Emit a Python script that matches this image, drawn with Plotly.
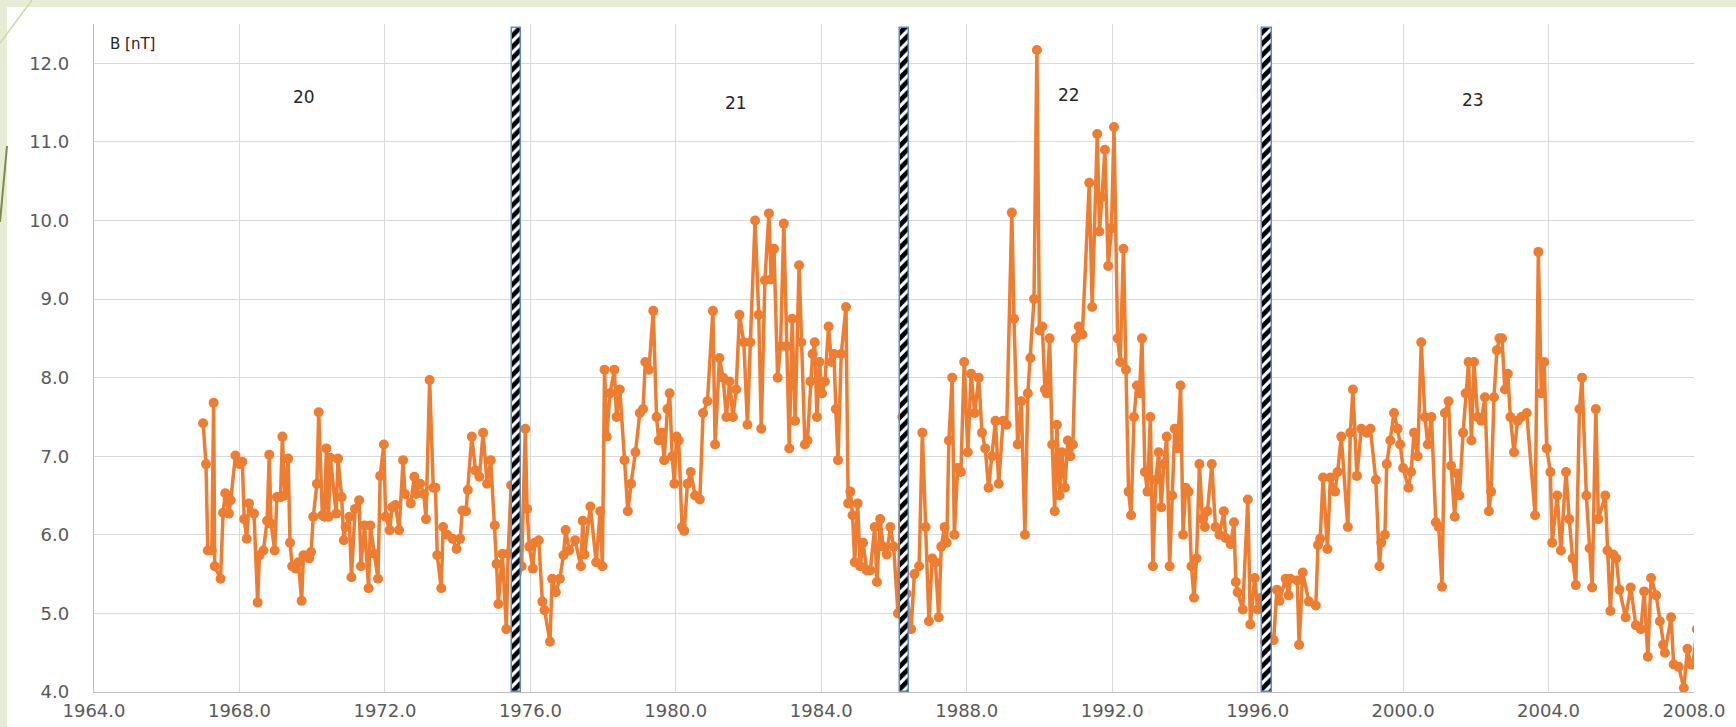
import plotly.graph_objects as go

# Interplanetary magnetic field strength B [nT], solar cycles 20-23
years_c20 = [1967.00, 1967.08, 1967.13, 1967.24, 1967.29, 1967.32, 1967.48, 1967.55, 1967.61, 1967.71,
             1967.76, 1967.89, 1968.01, 1968.08, 1968.13, 1968.20, 1968.26, 1968.40, 1968.50, 1968.55,
             1968.66, 1968.76, 1968.82, 1968.87, 1968.97, 1969.03, 1969.13, 1969.18, 1969.25, 1969.34,
             1969.39, 1969.45, 1969.55, 1969.62, 1969.71, 1969.76, 1969.92, 1969.97, 1970.03, 1970.13,
             1970.18, 1970.28, 1970.34, 1970.39, 1970.45, 1970.50, 1970.66, 1970.71, 1970.81, 1970.87,
             1970.92, 1971.02, 1971.08, 1971.18, 1971.29, 1971.34, 1971.44, 1971.55, 1971.60, 1971.71,
             1971.81, 1971.87, 1971.97, 1972.02, 1972.13, 1972.20, 1972.29, 1972.39, 1972.50, 1972.55,
             1972.71, 1972.81, 1972.86, 1972.97, 1973.07, 1973.13, 1973.23, 1973.33, 1973.39, 1973.44,
             1973.55, 1973.60, 1973.71, 1973.86, 1973.97, 1974.07, 1974.13, 1974.23, 1974.28, 1974.39,
             1974.49, 1974.60, 1974.70, 1974.81, 1974.91, 1975.02, 1975.07, 1975.12, 1975.23, 1975.34,
             1975.39, 1975.47, 1975.60]
b_c20 = [7.42, 6.90, 5.80, 5.80, 7.68, 5.60, 5.44, 6.28, 6.53, 6.27,
         6.44, 7.01, 6.90, 6.93, 6.20, 5.95, 6.40, 6.27, 5.14, 5.74,
         5.80, 6.18, 7.02, 6.14, 5.80, 6.48, 6.48, 7.25, 6.50, 6.97,
         5.90, 5.60, 5.57, 5.65, 5.16, 5.74, 5.70, 5.78, 6.23, 6.65,
         7.56, 6.25, 6.23, 7.10, 6.23, 6.98, 6.27, 6.97, 6.48, 5.93,
         6.10, 6.23, 5.46, 6.33, 6.44, 5.60, 6.12, 5.32, 6.12, 5.76,
         5.44, 6.75, 7.15, 6.23, 6.06, 6.35, 6.38, 6.06, 6.95, 6.52,
         6.40, 6.74, 6.52, 6.65, 6.52, 6.20, 7.97, 6.60, 6.60, 5.74,
         5.32, 6.10, 6.00, 5.95, 5.82, 5.95, 6.31, 6.30, 6.57, 7.25,
         6.82, 6.74, 7.30, 6.65, 6.95, 6.12, 5.63, 5.12, 5.76, 4.80,
         5.76, 6.63, 5.27]

years_c21 = [1975.76, 1975.86, 1975.91, 1975.97, 1976.07, 1976.12, 1976.23, 1976.33, 1976.39, 1976.54,
             1976.60, 1976.70, 1976.81, 1976.91, 1976.97, 1977.07, 1977.23, 1977.39, 1977.44, 1977.49,
             1977.65, 1977.81, 1977.92, 1977.98, 1978.04, 1978.10, 1978.19, 1978.31, 1978.37, 1978.46,
             1978.59, 1978.68, 1978.77, 1978.89, 1979.01, 1979.10, 1979.16, 1979.26, 1979.38, 1979.47,
             1979.53, 1979.62, 1979.68, 1979.77, 1979.83, 1979.90, 1979.96, 1980.02, 1980.08, 1980.17,
             1980.23, 1980.32, 1980.41, 1980.53, 1980.66, 1980.75, 1980.87, 1981.02, 1981.08, 1981.20,
             1981.30, 1981.39, 1981.48, 1981.57, 1981.66, 1981.75, 1981.87, 1981.97, 1982.05, 1982.18,
             1982.28, 1982.35, 1982.45, 1982.56, 1982.62, 1982.70, 1982.80, 1982.88, 1982.97, 1983.05,
             1983.12, 1983.20, 1983.28, 1983.39, 1983.45, 1983.55, 1983.62, 1983.70, 1983.76, 1983.82,
             1983.88, 1983.95, 1984.02, 1984.10, 1984.20, 1984.28, 1984.35, 1984.40, 1984.46, 1984.55,
             1984.68, 1984.74, 1984.80, 1984.86, 1984.92, 1985.00, 1985.07, 1985.15, 1985.25, 1985.35,
             1985.47, 1985.53, 1985.62, 1985.70, 1985.80, 1985.90, 1985.99, 1986.11, 1986.23]
b_c21 = [5.60, 7.35, 6.33, 5.85, 5.57, 5.90, 5.93, 5.15, 5.04, 4.64,
         5.44, 5.27, 5.44, 5.74, 6.06, 5.80, 5.93, 5.60, 6.18, 5.75,
         6.36, 5.65, 6.30, 5.60, 8.10, 7.25, 7.80, 8.10, 7.50, 7.85,
         6.95, 6.30, 6.65, 7.05, 7.55, 7.60, 8.20, 8.10, 8.85, 7.50,
         7.20, 7.30, 6.95, 7.60, 7.80, 7.00, 6.65, 7.25, 7.20, 6.10,
         6.05, 6.65, 6.80, 6.50, 6.45, 7.55, 7.70, 8.85, 7.15, 8.25,
         8.00, 7.50, 7.95, 7.50, 7.85, 8.80, 8.45, 7.40, 8.45, 10.00,
         8.80, 7.35, 9.24, 10.09, 9.25, 9.64, 8.00, 8.40, 9.96, 8.40,
         7.10, 8.75, 7.45, 9.43, 8.45, 7.15, 7.20, 7.95, 8.30, 8.45,
         7.50, 8.20, 7.80, 7.95, 8.65, 8.20, 8.30, 7.60, 6.95, 8.30,
         8.90, 6.40, 6.55, 6.25, 5.65, 6.40, 5.60, 5.90, 5.55, 5.55,
         6.10, 5.40, 6.20, 5.85, 5.75, 6.10, 5.85, 5.00, 7.50]

years_c22 = [1986.35, 1986.47, 1986.56, 1986.69, 1986.78, 1986.87, 1986.96, 1987.05, 1987.14, 1987.23,
             1987.30, 1987.39, 1987.45, 1987.51, 1987.60, 1987.66, 1987.75, 1987.84, 1987.93, 1988.03,
             1988.12, 1988.22, 1988.33, 1988.42, 1988.51, 1988.60, 1988.70, 1988.79, 1988.88, 1989.00,
             1989.10, 1989.24, 1989.30, 1989.40, 1989.50, 1989.60, 1989.68, 1989.75, 1989.85, 1989.93,
             1990.00, 1990.08, 1990.15, 1990.20, 1990.28, 1990.35, 1990.42, 1990.48, 1990.55, 1990.62,
             1990.70, 1990.78, 1990.85, 1990.92, 1991.00, 1991.08, 1991.18, 1991.37, 1991.45, 1991.59,
             1991.65, 1991.72, 1991.80, 1991.89, 1991.98, 1992.05, 1992.15, 1992.22, 1992.31, 1992.38,
             1992.45, 1992.52, 1992.60, 1992.68, 1992.75, 1992.82, 1992.90, 1992.97, 1993.05, 1993.12,
             1993.20, 1993.28, 1993.35, 1993.42, 1993.50, 1993.58, 1993.65, 1993.72, 1993.80, 1993.88,
             1993.95, 1994.02, 1994.10, 1994.18, 1994.25, 1994.32, 1994.40, 1994.48, 1994.55, 1994.62,
             1994.74, 1994.84, 1994.95, 1995.07, 1995.12, 1995.26, 1995.35, 1995.40, 1995.45, 1995.59,
             1995.73, 1995.80, 1995.92, 1996.00, 1996.10, 1996.20]
b_c22 = [5.25, 4.80, 5.50, 5.60, 7.30, 6.10, 4.90, 5.70, 5.65, 4.95,
         5.85, 6.10, 5.90, 7.20, 8.00, 6.00, 6.85, 6.80, 8.20, 7.05,
         8.05, 7.55, 8.00, 7.30, 7.10, 6.60, 7.00, 7.45, 6.65, 7.45,
         7.40, 10.10, 8.75, 7.15, 7.70, 6.00, 7.80, 8.25, 9.00, 12.17,
         8.60, 8.65, 7.85, 7.80, 8.50, 7.15, 6.30, 7.40, 6.50, 7.05,
         6.60, 7.20, 7.00, 7.15, 8.50, 8.65, 8.55, 10.48, 8.90, 11.10,
         9.86, 10.30, 10.90, 9.42, 9.90, 11.19, 8.50, 8.20, 9.64, 8.10,
         6.55, 6.25, 7.50, 7.90, 7.80, 8.50, 6.80, 6.55, 7.50, 5.60,
         6.70, 7.05, 6.35, 6.90, 7.25, 5.60, 6.50, 7.35, 7.10, 7.90,
         6.00, 6.60, 6.55, 5.60, 5.20, 5.70, 6.90, 6.20, 6.10, 6.30,
         6.90, 6.10, 6.00, 6.30, 5.96, 5.88, 6.16, 5.40, 5.27, 5.05,
         6.45, 4.86, 5.45, 5.05, 5.20, 4.64]

years_c23 = [1996.44, 1996.53, 1996.60, 1996.77, 1996.85, 1996.90, 1997.09, 1997.14, 1997.24, 1997.41,
             1997.60, 1997.66, 1997.72, 1997.80, 1997.92, 1998.00, 1998.13, 1998.20, 1998.30, 1998.48,
             1998.55, 1998.62, 1998.73, 1998.85, 1999.00, 1999.10, 1999.25, 1999.35, 1999.40, 1999.50,
             1999.55, 1999.65, 1999.75, 1999.85, 1999.92, 2000.00, 2000.15, 2000.22, 2000.30, 2000.40,
             2000.50, 2000.60, 2000.68, 2000.78, 2000.90, 2000.98, 2001.07, 2001.15, 2001.25, 2001.32,
             2001.42, 2001.48, 2001.55, 2001.65, 2001.72, 2001.80, 2001.88, 2001.95, 2002.05, 2002.15,
             2002.25, 2002.36, 2002.42, 2002.50, 2002.58, 2002.65, 2002.72, 2002.80, 2002.88, 2002.95,
             2003.05, 2003.15, 2003.25, 2003.40, 2003.63, 2003.72, 2003.80, 2003.88, 2003.95, 2004.05,
             2004.10, 2004.24, 2004.34, 2004.48, 2004.57, 2004.66, 2004.75, 2004.85, 2004.92, 2005.04,
             2005.13, 2005.20, 2005.30, 2005.37, 2005.56, 2005.62, 2005.70, 2005.78, 2005.86, 2005.95,
             2006.12, 2006.26, 2006.40, 2006.54, 2006.63, 2006.73, 2006.82, 2006.96, 2007.06, 2007.15,
             2007.20, 2007.37, 2007.44, 2007.58, 2007.72, 2007.82, 2007.91, 2007.97, 2008.08]
b_c23 = [4.66, 5.30, 5.16, 5.44, 5.23, 5.44, 5.42, 4.60, 5.52, 5.15,
         5.10, 5.87, 5.95, 6.73, 5.82, 6.73, 6.55, 6.80, 7.25, 6.10,
         7.30, 7.85, 6.75, 7.35, 7.30, 7.35, 6.70, 5.60, 5.90, 6.00,
         6.90, 7.20, 7.55, 7.35, 7.15, 6.85, 6.60, 6.80, 7.30, 7.00,
         8.45, 7.50, 7.15, 7.50, 6.16, 6.10, 5.34, 7.55, 7.70, 6.88,
         6.23, 6.78, 6.50, 7.30, 7.80, 8.20, 7.20, 8.20, 7.50, 7.45,
         7.75, 6.30, 6.55, 7.75, 8.35, 8.50, 8.50, 7.85, 8.05, 7.50,
         7.05, 7.45, 7.50, 7.55, 6.25, 9.60, 7.80, 8.20, 7.10, 6.80,
         5.90, 6.50, 5.80, 6.80, 6.20, 5.70, 5.36, 7.60, 8.00, 6.50,
         5.83, 5.33, 7.60, 6.20, 6.50, 5.80, 5.03, 5.75, 5.70, 5.30,
         4.95, 5.33, 4.85, 4.80, 5.28, 4.45, 5.45, 5.23, 4.90, 4.60,
         4.50, 4.95, 4.35, 4.32, 4.05, 4.55, 4.35, 4.35, 4.80]

# Cycle boundaries (solar minima) marked by hatched columns
cycle_minima = [1975.62, 1986.29, 1996.26]
minima_top = 12.45
axis_floor = 4.0

# Cycle numbers and their label positions
cycle_labels = ["20", "21", "22", "23"]
cycle_label_x = [1969.78, 1981.66, 1990.81, 2001.92]
cycle_label_y = [11.57, 11.50, 11.60, 11.53]

x_ticks = [1964, 1968, 1972, 1976, 1980, 1984, 1988, 1992, 1996, 2000, 2004, 2008]
y_ticks = [4, 5, 6, 7, 8, 9, 10, 11, 12]

years = years_c20 + years_c21 + years_c22 + years_c23
b_nt = b_c20 + b_c21 + b_c22 + b_c23

ORANGE = "#ED7D31"
GRID = "#d9d9d9"
TICK = "#595959"
FONT = "DejaVu Sans"

# Figure geometry in pixels (used to place the slide frame around the chart)
W, H = 1736, 727
M_L, M_R, M_T, M_B = 94, 42, 24, 35
PLOT_W, PLOT_H = W - M_L - M_R, H - M_T - M_B


def px_x(px):
    return (px - M_L) / PLOT_W


def px_y(py):
    return (H - M_B - py) / PLOT_H


fig = go.Figure()

fig.add_trace(go.Scatter(
    x=years, y=b_nt, mode="lines+markers",
    line=dict(color=ORANGE, width=3.5),
    marker=dict(color=ORANGE, size=10),
    xaxis="x", yaxis="y", showlegend=False,
))

# Hatched columns on an overlaid axis pair so they sit above the line
fig.add_trace(go.Bar(
    x=cycle_minima, y=[minima_top - axis_floor] * len(cycle_minima), base=axis_floor,
    width=0.27,
    marker=dict(color="white",
                line=dict(color="#5b8bc5", width=1.5),
                pattern=dict(shape="/", fgcolor="#000000", bgcolor="#ffffff",
                             fgopacity=1, size=8, solidity=0.6, fillmode="replace")),
    xaxis="x2", yaxis="y2", showlegend=False,
))

for txt, lx, ly in zip(cycle_labels, cycle_label_x, cycle_label_y):
    fig.add_annotation(x=lx, y=ly, text=txt, showarrow=False,
                       font=dict(family=FONT, size=17, color="#262626"))

fig.add_annotation(x=1965.07, y=12.24, text="B [nT]", showarrow=False,
                   font=dict(family=FONT, size=15, color="#262626"))

x_range = [1964, 2008]
y_range = [4, 12.5]

fig.update_layout(
    width=W, height=H,
    margin=dict(l=M_L, r=M_R, t=M_T, b=M_B),
    paper_bgcolor="#e7edd5",
    plot_bgcolor="white",
    font=dict(family=FONT, color=TICK),
    xaxis=dict(range=x_range, tickvals=x_ticks, tickformat=".1f",
               showgrid=True, gridcolor=GRID, gridwidth=1.3,
               showline=True, linecolor="#bfbfbf", linewidth=1.3,
               zeroline=False, ticks="", ticklabelstandoff=2, automargin=False,
               tickfont=dict(family=FONT, size=18, color=TICK)),
    yaxis=dict(range=y_range, tickvals=y_ticks, tickformat=".1f",
               showgrid=True, gridcolor=GRID, gridwidth=1.3,
               showline=True, linecolor="#bfbfbf", linewidth=1.3,
               zeroline=False, ticks="", ticklabelstandoff=20, automargin=False,
               tickfont=dict(family=FONT, size=18, color=TICK)),
    xaxis2=dict(range=x_range, overlaying="x", visible=False, automargin=False),
    yaxis2=dict(range=y_range, overlaying="y", visible=False, automargin=False),
    bargap=0,
    shapes=[
        # white chart area inside the slide frame
        dict(type="rect", xref="paper", yref="paper",
             x0=px_x(7), x1=px_x(W + 5), y0=px_y(H + 5), y1=px_y(7),
             fillcolor="white", line=dict(width=0), layer="below"),
        # decorative strokes of the slide background
        dict(type="line", xref="paper", yref="paper",
             x0=px_x(0), y0=px_y(222), x1=px_x(7), y1=px_y(146),
             line=dict(color="#7d8a4e", width=2), layer="below"),
        dict(type="line", xref="paper", yref="paper",
             x0=px_x(0), y0=px_y(43), x1=px_x(32), y1=px_y(0),
             line=dict(color="#cdd8ae", width=1.5), layer="below"),
    ],
)

fig.write_html("out.html")
